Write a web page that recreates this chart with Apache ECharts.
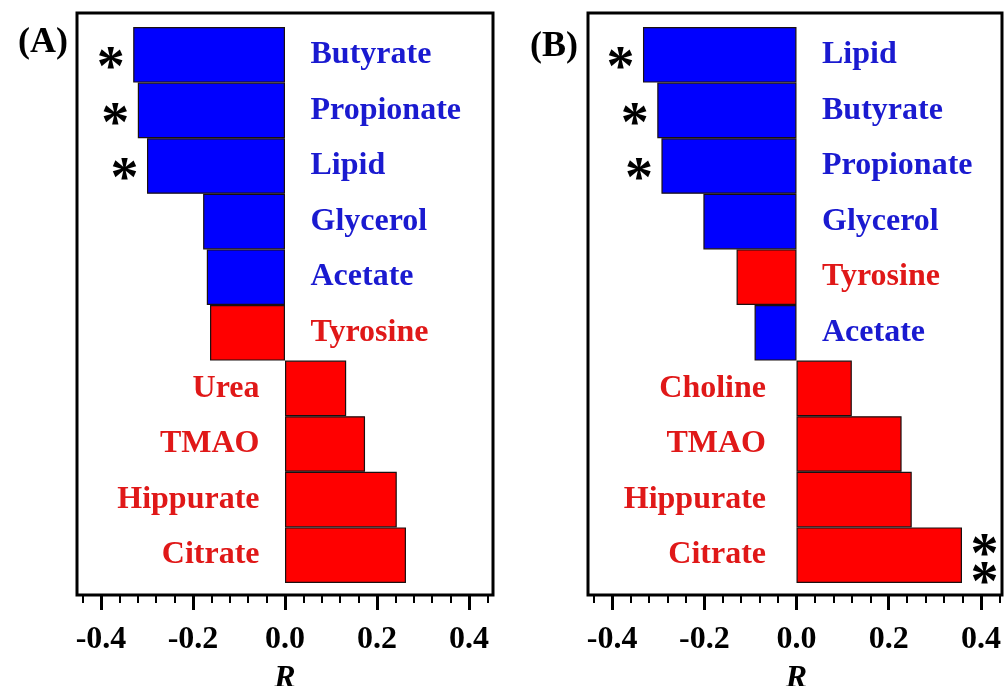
<!DOCTYPE html>
<html><head><meta charset="utf-8">
<script src="https://cdn.jsdelivr.net/npm/echarts@6/dist/echarts.min.js"></script>
<style>html,body{margin:0;padding:0;background:#fff}#c{width:1005px;height:686px}</style>
</head><body><div id="c"></div>
<script>
// ---- data ----
const categoriesA = ['Butyrate','Propionate','Lipid','Glycerol','Acetate','Tyrosine','Urea','TMAO','Hippurate','Citrate'];
const valuesA = [-0.330,-0.320,-0.300,-0.178,-0.170,-0.163,0.133,0.174,0.243,0.263];
const groupsA = ['blue','blue','blue','blue','blue','red','red','red','red','red'];
const starsA = [1,1,1,0,0,0,0,0,0,0];

const categoriesB = ['Lipid','Butyrate','Propionate','Glycerol','Tyrosine','Acetate','Choline','TMAO','Hippurate','Citrate'];
const valuesB = [-0.333,-0.302,-0.293,-0.202,-0.130,-0.091,0.120,0.228,0.250,0.359];
const groupsB = ['blue','blue','blue','blue','red','blue','red','red','red','red'];
const starsB = [1,1,1,0,0,0,0,0,0,2];

const xTicks = [-0.4,-0.2,0.0,0.2,0.4];
const minorStep = 0.04;
const minorEdge = 0.44;
const axisName = 'R';
const panelLabels = ['(A)','(B)'];

// ---- styles / layout ----
const W = 1005, H = 686;
const FONT = "'Liberation Serif','Times New Roman',serif";
const barColor = {blue:'#0000ff', red:'#ff0000'};
const textColor = {blue:'#1a1ad0', red:'#e01818'};
const frameTop = 13, frameBottom = 595, dataTop = 27, dataBottom = 583;
const layout = [
  {zero:285, scale:460, frameL:77, frameR:493, startGap:25, endGap:25, title:[18,25]},
  {zero:796.5, scale:461, frameL:588, frameR:1002, startGap:25, endGap:30, title:[530,29]}
];
const panels = [
  {cats:categoriesA, vals:valuesA, groups:groupsA, stars:starsA},
  {cats:categoriesB, vals:valuesB, groups:groupsB, stars:starsB}
];

const grid = [], xAxis = [], yAxis = [], series = [], title = [];
const hidden = {color:'rgba(0,0,0,0)', opacity:1};
panels.forEach((p, k) => {
  const L = layout[k];
  const g0 = grid.length;
  // frame grid
  grid.push({left:L.frameL, right:W-L.frameR, top:frameTop, bottom:H-frameBottom, show:true,
    borderColor:'#000', borderWidth:3, backgroundColor:'transparent', outerBoundsMode:'none'});
  xAxis.push({gridIndex:g0, type:'value', show:false, min:0, max:1});
  yAxis.push({gridIndex:g0, type:'value', show:false, min:0, max:1});
  // data grid
  grid.push({left:L.frameL, right:W-L.frameR, top:dataTop, bottom:H-dataBottom, outerBoundsMode:'none'});
  xAxis.push({gridIndex:g0+1, type:'value', show:false,
    min:(L.frameL-L.zero)/L.scale, max:(L.frameR-L.zero)/L.scale});
  yAxis.push({gridIndex:g0+1, type:'category', show:false, inverse:true, data:p.cats});
  // minor tick grid
  grid.push({left:L.zero-minorEdge*L.scale, right:W-(L.zero+minorEdge*L.scale), top:frameTop, bottom:H-frameBottom, outerBoundsMode:'none'});
  xAxis.push({gridIndex:g0+2, type:'value', min:-minorEdge, max:minorEdge, interval:minorStep,
    axisLine:{show:false}, splitLine:{show:false}, axisLabel:{show:false},
    axisTick:{show:true, inside:false, length:8, lineStyle:{color:'#000', width:2}}});
  yAxis.push({gridIndex:g0+2, type:'value', show:false, min:0, max:1});
  // major tick grid
  const tMin = xTicks[0], tMax = xTicks[xTicks.length-1];
  grid.push({left:L.zero+tMin*L.scale, right:W-(L.zero+tMax*L.scale), top:frameTop, bottom:H-frameBottom, outerBoundsMode:'none'});
  xAxis.push({gridIndex:g0+3, type:'value', min:tMin, max:tMax, interval:xTicks[1]-xTicks[0],
    axisLine:{show:false}, splitLine:{show:false},
    axisTick:{show:true, inside:false, length:15, lineStyle:{color:'#000', width:3}},
    axisLabel:{show:true, margin:29, color:'#000', fontFamily:FONT, fontWeight:'bold', fontSize:32,
      formatter:v => { const t = xTicks.find(x => Math.abs(x - v) < 1e-9); return (t === undefined ? v : t).toFixed(1); }},
    name:axisName, nameLocation:'middle', nameGap:68,
    nameTextStyle:{color:'#000', fontFamily:FONT, fontWeight:'bold', fontStyle:'italic', fontSize:32}});
  yAxis.push({gridIndex:g0+3, type:'value', show:false, min:0, max:1});

  // bars
  series.push({type:'bar', xAxisIndex:g0+1, yAxisIndex:g0+1, barWidth:'100%', silent:true,
    data:p.vals.map((v,i) => ({value:v, itemStyle:{color:barColor[p.groups[i]]}})),
    itemStyle:{borderColor:'#1a1010', borderWidth:1.2}});
  // category labels
  series.push({type:'scatter', xAxisIndex:g0+1, yAxisIndex:g0+1, symbolSize:1, silent:true,
    itemStyle:hidden,
    data:p.vals.map((v,i) => ({value:[0,i], name:p.cats[i],
      label:{show:true, position: v < 0 ? 'right' : 'left', distance: v < 0 ? L.startGap : L.endGap,
        color:textColor[p.groups[i]], fontFamily:FONT, fontWeight:'bold', fontSize:32, formatter:'{b}'}}))});
  // significance stars
  const sd = [];
  p.stars.forEach((n,i) => { if (n > 0) sd.push({value:[p.vals[i], i],
    label:{show:true, position: p.vals[i] < 0 ? 'left' : 'right', distance:8,
      formatter: Array(n).fill('*').join('\n'), offset:[0, n > 1 ? 16 : 16]}}); });
  series.push({type:'scatter', xAxisIndex:g0+1, yAxisIndex:g0+1, symbolSize:1, silent:true,
    itemStyle:hidden,
    label:{color:'#000', fontFamily:FONT, fontWeight:'bold', fontSize:56, lineHeight:28},
    data:sd});
  title.push({text:panelLabels[k], left:L.title[0], top:L.title[1], padding:0,
    textStyle:{color:'#000', fontFamily:FONT, fontWeight:'bold', fontSize:36}});
});

const chart = echarts.init(document.getElementById('c'));
chart.setOption({animation:false, backgroundColor:'#fff', title, grid, xAxis, yAxis, series});
</script>
</body></html>
